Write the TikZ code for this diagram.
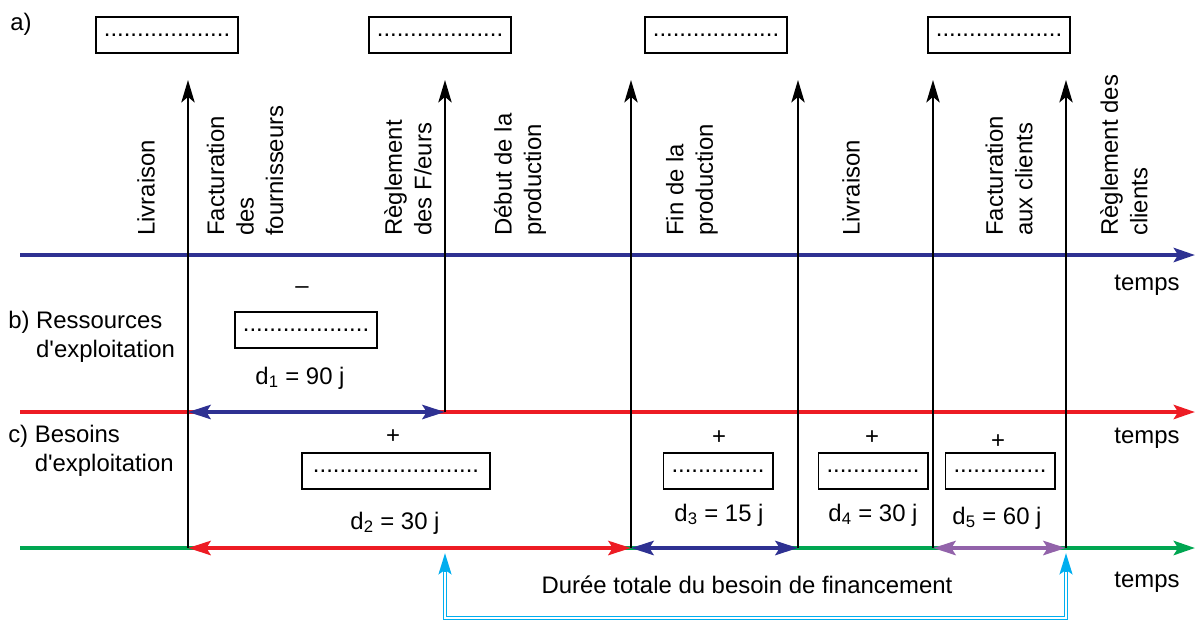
\documentclass[tikz,border=0pt]{standalone}
\usepackage{fontspec}
\setmainfont{Liberation Sans}
\usetikzlibrary{arrows.meta}
\definecolor{bleuaxe}{RGB}{46,49,146}
\definecolor{rougeaxe}{RGB}{237,28,36}
\definecolor{vertaxe}{RGB}{0,166,81}
\definecolor{violetd}{RGB}{146,99,170}
\definecolor{cyand}{RGB}{0,174,239}
\begin{document}
\begin{tikzpicture}[x=0.025cm,y=-0.025cm,
    every node/.style={font=\fontsize{17}{21}\selectfont,inner sep=0pt},
    boite/.style={draw,line width=1.4pt,minimum height=0.9cm},
    evt/.style={rotate=90,anchor=west,align=left},
    axe/.style={line width=3.5pt,-{Stealth[length=15pt,width=10pt,inset=3pt]}},
    fleche/.style={line width=1.4pt,-{Stealth[length=16pt,width=9.5pt,inset=4pt]}},
    duree/.style={line width=3pt,{Stealth[length=16pt,width=10pt,inset=3pt]}-{Stealth[length=16pt,width=10pt,inset=3pt]}}]
  \useasboundingbox (0,0) rectangle (1199,627);
  \coordinate (a0) at (20,255);  \coordinate (a1) at (1195,255);
  \coordinate (b0) at (20,412);  \coordinate (b1) at (1195,412);
  \coordinate (c0) at (20,548);  \coordinate (c1) at (1195,548);
  \coordinate (p1) at (188,548); \coordinate (h1) at (188,80);
  \coordinate (p2) at (445,412); \coordinate (h2) at (445,80);
  \coordinate (p3) at (631,548); \coordinate (h3) at (631,80);
  \coordinate (p4) at (798,548); \coordinate (h4) at (798,80);
  \coordinate (p5) at (933,548); \coordinate (h5) at (933,80);
  \coordinate (p6) at (1066,548); \coordinate (h6) at (1066,80);
  \coordinate (q1) at (188,412);
  \draw[axe,bleuaxe] (a0) -- (a1);
  \draw[axe,rougeaxe] (b0) -- (b1);
  \draw[axe,vertaxe] (c0) -- (c1);
  \foreach \i in {1,...,6} \draw[fleche] (p\i) -- (h\i);
  \draw[duree,bleuaxe] (q1) -- (p2);
  \draw[duree,rougeaxe] (p1) -- (p3);
  \draw[duree,bleuaxe] (p3) -- (p4);
  \draw[duree,violetd] (p5) -- (p6);
  \node (ta) at (21,24) {a)};
  \node[boite,minimum width=3.55cm] (ba1) at (167,35) {...................};
  \node[boite,minimum width=3.55cm] (ba2) at (440,35) {...................};
  \node[boite,minimum width=3.55cm] (ba3) at (716,35) {...................};
  \node[boite,minimum width=3.55cm] (ba4) at (999,35) {...................};
  \node[evt] (e1) at (146,236) {Livraison};
  \node[evt] (e2) at (245,236) {Facturation\\des\\fournisseurs};
  \node[evt] (e3) at (408,236) {Règlement\\des F/eurs};
  \node[evt] (e4) at (520,236) {Début de la\\production};
  \node[evt] (e5) at (692,236) {Fin de la\\production};
  \node[evt] (e6) at (851,236) {Livraison};
  \node[evt] (e7) at (1009,236) {Facturation\\aux clients};
  \node[evt] (e8) at (1124,236) {Règlement des\\clients};
  \node[anchor=west] (tb) at (8,337) {\begin{tabular}{@{}l@{ }l@{}}b)&Ressources\\&d\textquotesingle exploitation\end{tabular}};
  \node[anchor=west] (tc) at (8,451) {\begin{tabular}{@{}l@{ }l@{}}c)&Besoins\\&d\textquotesingle exploitation\end{tabular}};
  \node (sb) at (302,290) {\textendash};
  \node[boite,minimum width=3.525cm] (bb) at (306,330) {...................};
  \node (d1) at (300,378) {d\textsubscript{1} = 90 j};
  \node (s2) at (393,437) {+};
  \node[boite,minimum width=4.7cm] (bc2) at (396,471) {.........................};
  \node (d2) at (395,523) {d\textsubscript{2} = 30 j};
  \node (s3) at (719,438) {+};
  \node[boite,minimum width=2.725cm] (bc3) at (718,471) {..............};
  \node (d3) at (719,515) {d\textsubscript{3} = 15 j};
  \node (s4) at (872,438) {+};
  \node[boite,minimum width=2.725cm] (bc4) at (873,471) {..............};
  \node (d4) at (873,515) {d\textsubscript{4} = 30 j};
  \node (s5) at (998,442) {+};
  \node[boite,minimum width=2.725cm] (bc5) at (1000,471) {..............};
  \node (d5) at (997,518) {d\textsubscript{5} = 60 j};
  \node (t1) at (1147,285) {temps};
  \node (t2) at (1147,438) {temps};
  \node (t3) at (1147,582) {temps};
  \node (tot) at (747,585) {Durée totale du besoin de financement};
  \coordinate (g1) at (445,553); \coordinate (g2) at (1066,553);
  \coordinate (k1) at (445,572); \coordinate (k2) at (1066,572);
  \coordinate (r1) at (445,618); \coordinate (r2) at (1066,618);
  \draw[cyand,line width=2.6pt] (k1) -- (r1) -- (r2) -- (k2);
  \draw[white,line width=0.9pt] (k1) -- (r1) -- (r2) -- (k2);
  \draw[cyand,line width=2.6pt,-{Stealth[length=15pt,width=9pt,inset=3pt]}] (k1) -- (g1);
  \draw[cyand,line width=2.6pt,-{Stealth[length=15pt,width=9pt,inset=3pt]}] (k2) -- (g2);
\end{tikzpicture}
\end{document}
